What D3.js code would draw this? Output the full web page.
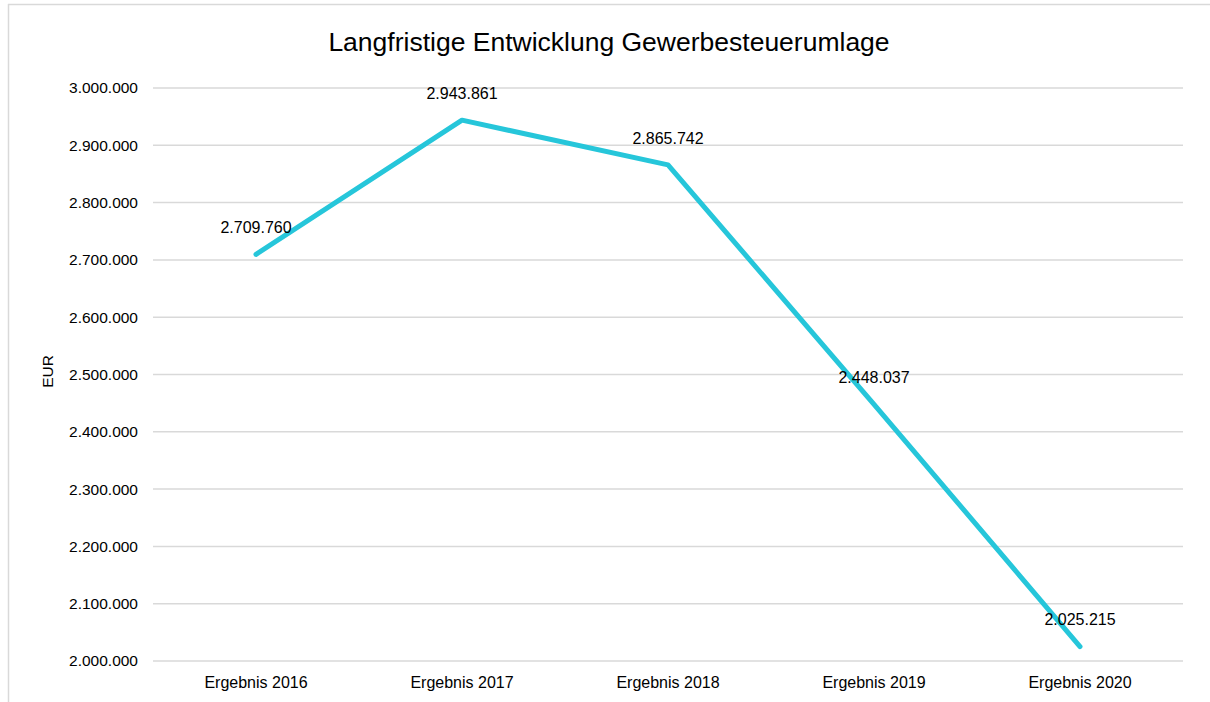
<!DOCTYPE html>
<html>
<head>
<meta charset="utf-8">
<script src="https://cdn.jsdelivr.net/npm/d3@7"></script>
<style>
  body { margin: 0; background: #fff; }
  text { font-family: "Liberation Sans", Arial, Helvetica, sans-serif; fill: #000; }
</style>
</head>
<body>
<svg></svg>
<script>
// chart data
const categories = ["Ergebnis 2016", "Ergebnis 2017", "Ergebnis 2018", "Ergebnis 2019", "Ergebnis 2020"];
const values = [2709760, 2943861, 2865742, 2448037, 2025215];
const yTicks = [2000000, 2100000, 2200000, 2300000, 2400000, 2500000, 2600000, 2700000, 2800000, 2900000, 3000000];

const size = { w: 1210, h: 702 };
const margin = { t: 88, r: 27, b: 41, l: 153 };
const svg = d3.select("svg").attr("width", size.w).attr("height", size.h);

// light frame (top + left only, like the screenshot)
svg.append("line").attr("x1", 8).attr("x2", size.w).attr("y1", 4.5).attr("y2", 4.5)
	.attr("stroke", "#d9d9d9").attr("stroke-width", 1.5);
svg.append("line").attr("x1", 8.5).attr("x2", 8.5).attr("y1", 4).attr("y2", size.h)
	.attr("stroke", "#d9d9d9").attr("stroke-width", 1.5);

const x = d3.scaleBand().domain(categories).range([margin.l, size.w - margin.r]);
const y = d3.scaleLinear().domain([2000000, 3000000]).range([size.h - margin.b, margin.t]);

const fmt = (v) => d3.format(",")(v).replace(/,/g, ".");

// gridlines
svg.append("g").selectAll("line")
	.data(yTicks)
	.join("line")
	.attr("x1", margin.l).attr("x2", size.w - margin.r)
	.attr("y1", (d) => y(d)).attr("y2", (d) => y(d))
	.attr("stroke", "#d9d9d9").attr("stroke-width", 1.5);

// y tick labels
svg.append("g").selectAll("text")
	.data(yTicks)
	.join("text")
	.attr("x", 138).attr("y", (d) => y(d))
	.attr("dy", "0.35em")
	.attr("text-anchor", "end")
	.style("font-size", "15.5px")
	.text(fmt);

// x labels
svg.append("g").selectAll("text")
	.data(categories)
	.join("text")
	.attr("x", (d) => x(d) + x.bandwidth() / 2)
	.attr("y", 682)
	.attr("dy", "0.35em")
	.attr("text-anchor", "middle")
	.style("font-size", "16px")
	.text((d) => d);

// axis title
svg.append("text")
	.attr("transform", `translate(48,${(margin.t + size.h - margin.b) / 2 - 3}) rotate(-90)`)
	.attr("dy", "0.35em")
	.attr("text-anchor", "middle")
	.style("font-size", "15.5px")
	.text("EUR");

// chart title
svg.append("text")
	.attr("x", 609).attr("y", 42)
	.attr("dy", "0.35em")
	.attr("text-anchor", "middle")
	.style("font-size", "26.5px")
	.text("Langfristige Entwicklung Gewerbesteuerumlage");

// the line
const line = d3.line()
	.x((d, i) => x(categories[i]) + x.bandwidth() / 2)
	.y((d) => y(d));

svg.append("path")
	.datum(values)
	.attr("d", line)
	.attr("fill", "none")
	.attr("stroke", "#26c6da")
	.attr("stroke-width", 5)
	.attr("stroke-linecap", "round")
	.attr("stroke-linejoin", "round");

// data labels
svg.append("g").selectAll("text")
	.data(values)
	.join("text")
	.attr("x", (d, i) => x(categories[i]) + x.bandwidth() / 2)
	.attr("y", (d) => y(d) - 27)
	.attr("dy", "0.35em")
	.attr("text-anchor", "middle")
	.style("font-size", "16px")
	.text(fmt);
</script>
</body>
</html>
